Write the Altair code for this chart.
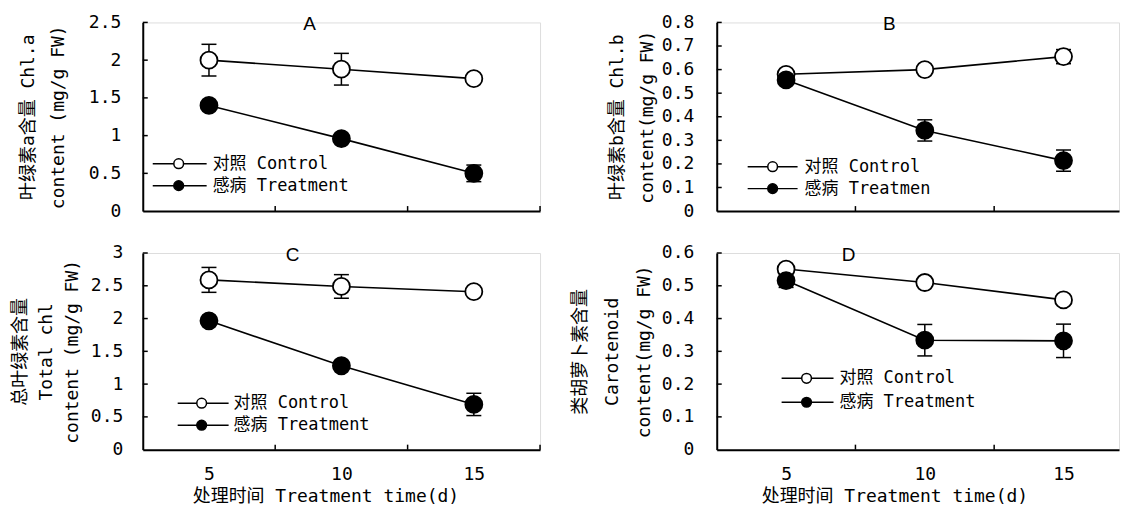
import altair as alt
import pandas as pd

days = [5, 10, 15]
series_names = ["Control", "Treatment"]
x_between = [7.5, 12.5, 17.5]
x_title = "处理时间 Treatment time(d)"

# Panel A
a_control = [2.00, 1.88, 1.755]
a_control_err = [0.21, 0.21, 0.02]
a_treat = [1.40, 0.96, 0.50]
a_treat_err = [0.02, 0.02, 0.11]
a_yticks = [0, 0.5, 1, 1.5, 2, 2.5]
a_ytitle = ["叶绿素a含量 Chl.a", "content (mg/g FW)"]
a_legend = ["对照 Control", "感病 Treatment"]

# Panel B
b_control = [0.58, 0.60, 0.655]
b_control_err = [0.01, 0.015, 0.03]
b_treat = [0.556, 0.342, 0.214]
b_treat_err = [0.01, 0.045, 0.045]
b_yticks = [0, 0.1, 0.2, 0.3, 0.4, 0.5, 0.6, 0.7, 0.8]
b_ytitle = ["叶绿素b含量 Chl.b", "content(mg/g FW)"]
b_legend = ["对照 Control", "感病 Treatmen"]

# Panel C
c_control = [2.59, 2.49, 2.41]
c_control_err = [0.19, 0.18, 0.03]
c_treat = [1.965, 1.28, 0.69]
c_treat_err = [0.03, 0.03, 0.17]
c_yticks = [0, 0.5, 1, 1.5, 2, 2.5, 3]
c_ytitle = ["总叶绿素含量", "Total chl", "content (mg/g FW)"]
c_legend = ["对照 Control", "感病 Treatment"]

# Panel D
d_control = [0.551, 0.51, 0.457]
d_control_err = [0.01, 0.01, 0.01]
d_treat = [0.516, 0.334, 0.332]
d_treat_err = [0.021, 0.048, 0.051]
d_yticks = [0, 0.1, 0.2, 0.3, 0.4, 0.5, 0.6]
d_ytitle = ["类胡萝卜素含量", "Carotenoid", "content(mg/g FW)"]
d_legend = ["对照 Control", "感病 Treatment"]

MONO = "DejaVu Sans Mono, Noto Sans CJK SC"
SANS = "Liberation Sans, Arial, sans-serif"


def panel(letter, ctrl, ctrl_err, trt, trt_err, yticks, ytitle, legend_labels, L):
    w, h = L["w"], L["h"]
    rows = []
    for s, vals, errs in (("Control", ctrl, ctrl_err), ("Treatment", trt, trt_err)):
        for d, v, e in zip(days, vals, errs):
            rows.append({"day": d, "series": s, "value": v, "lo": v - e, "hi": v + e})
    df = pd.DataFrame(rows)

    xscale = alt.Scale(domain=[2.5, L["xmax"]], nice=False, zero=False)
    yscale = alt.Scale(domain=[yticks[0], yticks[-1]], nice=False, zero=True)
    if L["bottom"]:
        xaxis = alt.Axis(values=days, format="d", ticks=False, tickSize=0, labels=True,
                         labelFont=MONO, labelFontSize=18, labelColor="black", labelPadding=16,
                         labelFlush=False, domainColor="black", domainWidth=2, grid=False,
                         title=x_title, titleFont=MONO, titleFontSize=18, titleFontWeight="normal",
                         titleColor="black", titleX=L["titlex"], titleY=38, titleAlign="center",
                         titleBaseline="top")
    else:
        xaxis = alt.Axis(values=days, ticks=False, tickSize=0, labels=False,
                         domainColor="black", domainWidth=2, grid=False, title=None)
    yaxis = alt.Axis(values=yticks, format="~g", ticks=False, tickSize=0,
                     labelFont=MONO, labelFontSize=18, labelColor="black", labelPadding=L["lpad"],
                     labelFlush=False, labelOverlap=False, domainColor="black", domainWidth=2,
                     grid=False, title=ytitle, titleFont=MONO, titleFontSize=18,
                     titleFontWeight="normal", titleColor="black", titleLineHeight=L["lh"],
                     titlePadding=L["tpad"], minExtent=55, maxExtent=55)

    def X(f):
        return alt.X(f, scale=xscale, axis=xaxis)

    def Y(f):
        return alt.Y(f, scale=yscale, axis=yaxis)

    xt_df = pd.DataFrame({"t": [t for t in x_between if t <= L["xmax"]]})
    xt = alt.Chart(xt_df).mark_rule(color="black", strokeWidth=1.5).encode(
        x=X("t:Q"), y=alt.value(h), y2=alt.value(h - 5))
    yt_df = pd.DataFrame({"v": yticks[1:]})
    yt = alt.Chart(yt_df).mark_rule(color="black", strokeWidth=1.5).encode(
        y=Y("v:Q"), x=alt.value(0), x2=alt.value(5))

    base = alt.Chart(df)
    err_rule = base.mark_rule(color="black", strokeWidth=1.5).encode(
        x=X("day:Q"), y=Y("lo:Q"), y2="hi:Q")
    err_lo = base.mark_tick(orient="horizontal", color="black", size=15, thickness=1.5,
                            opacity=1).encode(x=X("day:Q"), y=Y("lo:Q"))
    err_hi = base.mark_tick(orient="horizontal", color="black", size=15, thickness=1.5,
                            opacity=1).encode(x=X("day:Q"), y=Y("hi:Q"))
    line = base.mark_line(color="black", strokeWidth=1.6).encode(
        x=X("day:Q"), y=Y("value:Q"), detail="series:N")
    pts = base.mark_point(shape="circle", filled=True, size=290, stroke="black",
                          strokeWidth=1.8, opacity=1).encode(
        x=X("day:Q"), y=Y("value:Q"),
        fill=alt.Fill("series:N", scale=alt.Scale(domain=series_names, range=["white", "black"]),
                      legend=None))

    layers = [xt, yt, err_rule, err_lo, err_hi, line, pts]
    lx1, lx2, cx, tx = L["leg_x"]
    for i, (s, lab) in enumerate(zip(series_names, legend_labels)):
        ry = L["leg_y"][i]
        ldf = alt.Chart(pd.DataFrame({"series": [s], "label": [lab]}))
        layers.append(ldf.mark_rule(color="black", strokeWidth=1.5).encode(
            x=alt.value(lx1), x2=alt.value(lx2), y=alt.value(ry)))
        layers.append(ldf.mark_point(shape="circle", filled=True, size=95, stroke="black",
                                     strokeWidth=1.5, opacity=1,
                                     fill="white" if s == "Control" else "black").encode(
            x=alt.value(cx), y=alt.value(ry)))
        layers.append(ldf.mark_text(align="left", baseline="middle", font=MONO, fontSize=17,
                                    color="black").encode(
            x=alt.value(tx), y=alt.value(ry), text="label:N"))
    lt = alt.Chart(pd.DataFrame({"letter": [letter]})).mark_text(
        font=SANS, fontSize=19, color="black", baseline="middle", align="center").encode(
        x=alt.value(L["letter_x"]), y=alt.value(2), text="letter:N")
    layers.append(lt)
    return alt.layer(*layers).properties(width=w, height=h)


A = panel("A", a_control, a_control_err, a_treat, a_treat_err, a_yticks, a_ytitle, a_legend,
          dict(w=398, h=189, xmax=17.5, bottom=False, lpad=22, tpad=20, lh=30,
               leg_x=(10, 64, 36, 70), leg_y=(141.5, 163.5), letter_x=167))
B = panel("B", b_control, b_control_err, b_treat, b_treat_err, b_yticks, b_ytitle, b_legend,
          dict(w=403, h=189, xmax=17.0, bottom=False, lpad=23, tpad=5, lh=30,
               leg_x=(31, 81, 56, 88), leg_y=(144.5, 166.5), letter_x=173))
C = panel("C", c_control, c_control_err, c_treat, c_treat_err, c_yticks, c_ytitle, c_legend,
          dict(w=398, h=197, xmax=17.5, bottom=True, lpad=20, tpad=6, lh=26, titlex=183,
               leg_x=(35, 86, 59, 91), leg_y=(150.5, 172.5), letter_x=150))
D = panel("D", d_control, d_control_err, d_treat, d_treat_err, d_yticks, d_ytitle, d_legend,
          dict(w=403, h=197, xmax=17.0, bottom=True, lpad=23, tpad=8, lh=32, titlex=178,
               leg_x=(65, 117, 90, 123), leg_y=(125.5, 149.5), letter_x=132))

chart = alt.concat(A, B, C, D, columns=2, spacing={"row": 42, "column": 177},
                   bounds="flush").properties(
    padding={"left": 3, "top": 4, "right": 0, "bottom": 0}
).configure_view(strokeWidth=0).configure(background="white")

chart.save("out.html", embed_options={"renderer": "svg", "actions": False})
